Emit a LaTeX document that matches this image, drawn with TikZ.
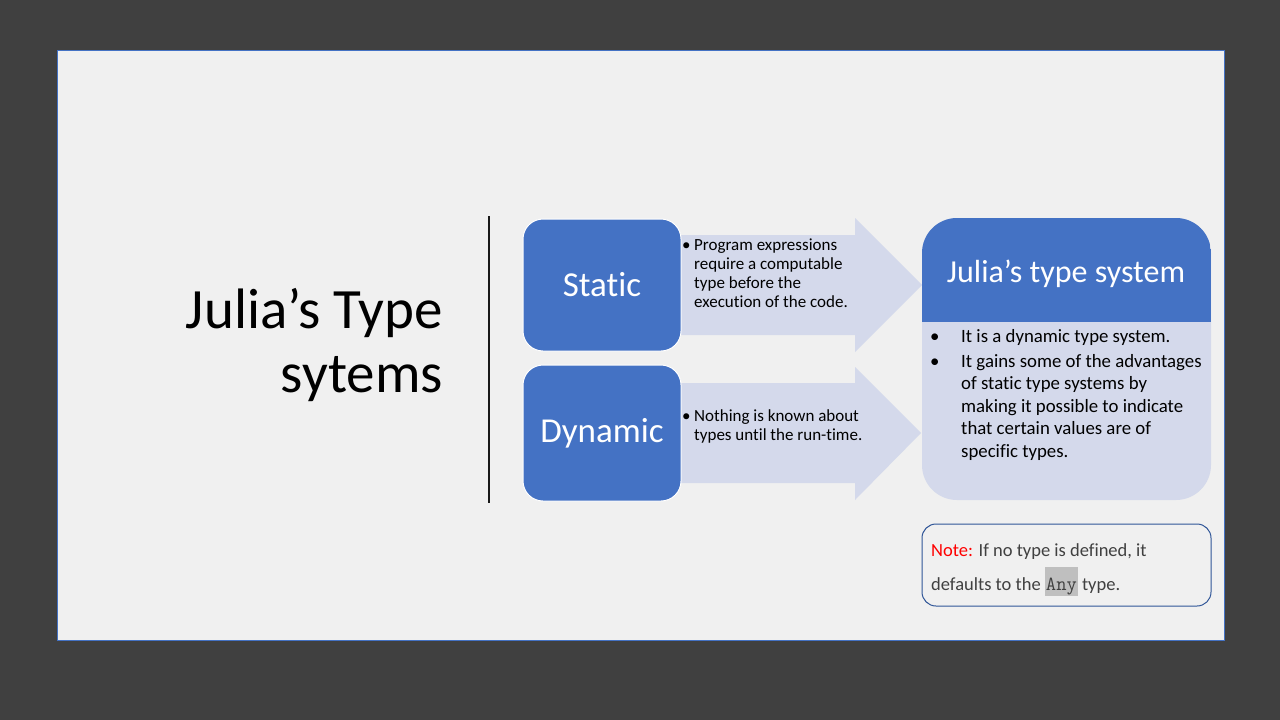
\documentclass[tikz,border=0pt]{standalone}
\usepackage{fontspec}
\setmainfont{Carlito}[Ligatures=NoCommon]
\definecolor{darkbg}{HTML}{404040}
\definecolor{slidebg}{HTML}{F0F0F0}
\definecolor{jblue}{HTML}{4472C4}
\definecolor{paleblue}{HTML}{D4D9EB}
\definecolor{noteedge}{HTML}{2F5597}
\definecolor{notetext}{HTML}{404040}
\definecolor{hlgray}{HTML}{BFBFBF}
\begin{document}
\begin{tikzpicture}[x=1pt,y=-1pt,
  catbox/.style={fill=jblue, draw=white, line width=1pt, rounded corners=20pt,
    text=white, inner sep=0pt, font=\fontsize{35}{40}\selectfont},
  arrowshape/.style={fill=paleblue},
  smalltxt/.style={anchor=base west, inner sep=0pt, font=\fontsize{17}{19}\selectfont},
  bodytxt/.style={anchor=base west, inner sep=0pt, font=\fontsize{18.8}{22}\selectfont},
  notetxt/.style={anchor=base west, inner sep=0pt, text=notetext, font=\fontsize{18.5}{22}\selectfont},
  titletxt/.style={anchor=base east, inner sep=0pt, font=\fontsize{57}{64}\selectfont}]
% frame and slide
\fill[darkbg] (0,0) rectangle (1280,720);
\filldraw[fill=slidebg, draw=jblue, line width=1pt] (57,50) rectangle (1224,640);
\useasboundingbox (0,0) rectangle (1280,720);

% title
\node[titletxt] (title1) at (443,328) {Julia’s Type};
\node[titletxt] (title2) at (443,392) {sytems};
\draw[line width=2pt, black!90] (489,216) -- (489,503);

% block arrows
\fill[arrowshape] (660,235) -- (855,235) -- (855,218) -- (922,285) -- (855,352) -- (855,335) -- (660,335) -- cycle;
\fill[arrowshape] (660,383) -- (855,383) -- (855,367) -- (921,433) -- (855,500) -- (855,483) -- (660,483) -- cycle;

% category boxes
\node[catbox, minimum width=158pt, minimum height=132pt] (static) at (602,285) {Static};
\node[catbox, minimum width=158pt, minimum height=136pt] (dynamic) at (602,433) {Dynamic};

% arrow texts
\node[smalltxt] (sb) at (682,250) {•};
\foreach \t [count=\i] in {Program expressions, require a computable, type before the, execution of the code.}
  \node[smalltxt] (s\i) at (694,231+19*\i) {\t};
\node[smalltxt] (db) at (682,421) {•};
\node[smalltxt] (d1) at (694,421) {Nothing is known about};
\node[smalltxt] (d2) at (694,440) {types until the run-time.};

% Julia's type system box
\fill[paleblue, rounded corners=35pt] (922,218) rectangle (1211,500);
\begin{scope}
  \clip[rounded corners=35pt] (922,218) rectangle (1211,500);
  \fill[jblue] (922,210) rectangle (1211,322);
\end{scope}
\node[text=white, inner sep=0pt, font=\fontsize{32}{36}\selectfont] (jhead) at (1066,274) {Julia’s type system};
\node[bodytxt] (jb1) at (930,342) {•};
\node[bodytxt] (jt1) at (961,342) {It is a dynamic type system.};
\node[bodytxt] (jb2) at (930,367) {•};
\foreach \t [count=\i] in {It gains some of the advantages, of static type systems by, making it possible to indicate, that certain values are of, specific types.}
  \node[bodytxt] (jt\i b) at (961,344.5+22.5*\i) {\t};

% note box
\draw[noteedge, line width=1pt, rounded corners=14pt] (922,524) rectangle (1211,606);
\node[notetxt] (note1) at (931,556) {\textcolor{red}{Note:} If no type is defined, it};
\node[notetxt] (note2) at (931,590) {defaults to the {\setlength\fboxsep{1pt}\colorbox{hlgray}{\rule[-5pt]{0pt}{27pt}\ttfamily\fontsize{20}{22}\selectfont Any}} type.};
\end{tikzpicture}
\end{document}
